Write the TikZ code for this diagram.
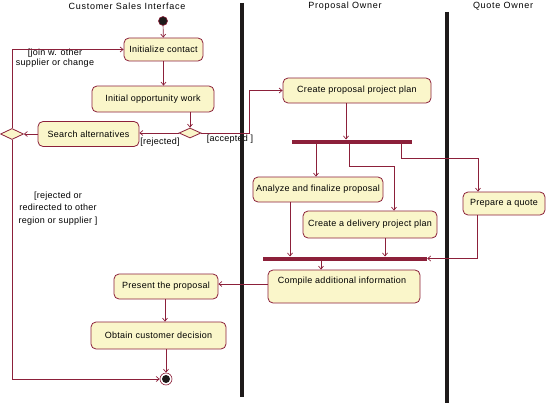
\documentclass[tikz,border=0pt]{standalone}
\usepackage{fontspec}
\setmainfont{Liberation Sans}
\usetikzlibrary{arrows.meta,shapes.geometric}
\definecolor{ln}{RGB}{140,32,58}
\definecolor{fl}{RGB}{250,246,202}
\definecolor{dk}{RGB}{30,26,26}
\tikzset{
  x=1pt,y=-1pt,
  every node/.style={font=\fontsize{9}{10.5}\selectfont\addfontfeatures{LetterSpace=3}},
  act/.style={draw=ln,fill=fl,rounded corners=5pt,line width=0.8pt,inner sep=0pt,align=center},
  dec/.style={draw=ln,fill=fl,diamond,line width=0.8pt,inner sep=0pt,aspect=2.2},
  bar/.style={fill=ln,draw=none,inner sep=0pt,minimum height=4pt},
  flow/.style={draw=ln,line width=0.7pt,-{Straight Barb[length=3pt,width=5pt]}},
  lane/.style={draw=dk,line width=3.5pt},
  lbl/.style={align=center,inner sep=0pt},
  ttl/.style={inner sep=0pt,font=\fontsize{9}{10.5}\selectfont\addfontfeatures{LetterSpace=8}}
}
\begin{document}
\begin{tikzpicture}
\useasboundingbox (0,0) rectangle (546,404);
% labels under lanes
\node[lbl] (l3) at (230,139) {[accepted ]};
% lanes
\coordinate (s1t) at (242,3); \coordinate (s1b) at (242,397);
\coordinate (s2t) at (447,12); \coordinate (s2b) at (447,403);
\draw[lane] (s1t) -- (s1b);
\draw[lane] (s2t) -- (s2b);
\node[ttl] (t1) at (127,6) {Customer Sales Interface};
\node[ttl] (t2) at (345,6) {Proposal Owner};
\node[ttl] (t3) at (503,6) {Quote Owner};
% nodes
\node[circle,fill=dk,draw=ln,line width=0.6pt,minimum size=9pt,inner sep=0pt] (start) at (163,21) {};
\node[act,minimum width=79pt,minimum height=23pt] (init) at (163.5,49.5) {Initialize contact};
\node[act,minimum width=122pt,minimum height=26pt] (opp) at (153,99) {Initial opportunity work};
\node[dec,minimum width=22pt,minimum height=10pt] (d1) at (190,133) {};
\node[act,minimum width=101pt,minimum height=25pt] (search) at (88.5,134) {Search alternatives};
\node[dec,minimum width=23pt,minimum height=11pt] (d2) at (12,134) {};
\node[act,minimum width=148pt,minimum height=25pt] (cppp) at (357,90.5) {Create proposal project plan};
\node[bar,minimum width=120pt] (fork) at (352,141.5) {};
\node[act,minimum width=130pt,minimum height=25pt] (anal) at (318,189.5) {Analyze and finalize proposal};
\node[act,minimum width=134pt,minimum height=27pt] (deliv) at (370,224.5) {Create a delivery project plan};
\node[act,minimum width=82pt,minimum height=23pt] (quote) at (504,203.5) {Prepare a quote};
\node[bar,minimum width=164pt] (join) at (345,258.5) {};
\node[act,minimum width=152pt,minimum height=33pt] (comp) at (344,286.5) {};
\node[lbl] (compt) at (342,281) {Compile additional information};
\node[act,minimum width=104pt,minimum height=25pt] (pres) at (166,286.5) {Present the proposal};
\node[act,minimum width=135pt,minimum height=27pt] (obt) at (158.5,335.5) {Obtain customer decision};
\node[circle,draw=ln,fill=white,line width=0.6pt,minimum size=12pt,inner sep=0pt] (end) at (166,379) {};
\node[circle,fill=dk,minimum size=8pt,inner sep=0pt] (endin) at (166,379) {};
% labels
\node[lbl] (l1) at (55,58) {[join w. other\\supplier or change};
\node[lbl] (l2) at (160,142) {[rejected]};
\node[lbl,font=\fontsize{9}{12.5}\selectfont\addfontfeatures{LetterSpace=3}] (l4) at (58,208.5) {[rejected or\\redirected to other\\region or supplier ]};
% connectors
\coordinate (c1) at (249,133);
\draw[flow] (start) -- (init);
\draw[flow] (init.south) -- (init.south |- opp.north);
\draw[flow] (d1.north |- opp.south) -- (d1.north);
\draw[flow] (d1.west) -- (d1.west -| search.east);
\draw[flow] (search.west) -- (d2.east);
\draw[flow] (d2.north) |- (init.west);
\draw[flow] (d2.south) |- (end.west);
\draw[flow] (d1.east) -- (c1) |- (cppp.west);
\draw[flow] (cppp.south -| 346,0) -- (346,139.5);
\draw[flow] (316,143.5) -- (316,0 |- anal.north);
\draw[flow] (349,143.5) -- (349,166) -- (394,166) -- (394,0 |- deliv.north);
\draw[flow] (401,143.5) -- (401,158) -- (478,158) -- (478,0 |- quote.north);
\draw[flow] (290,0 |- anal.south) -- (290,256.5);
\draw[flow] (385,0 |- deliv.south) -- (385,256.5);
\draw[flow] (477,0 |- quote.south) |- (join.east);
\draw[flow] (321,260.5) -- (321,0 |- comp.north);
\draw[flow] (comp.west |- 0,284) -- (pres.east |- 0,284);
\draw[flow] (165,0 |- pres.south) -- (165,0 |- obt.north);
\draw[flow] (166,0 |- obt.south) -- (end.north);
\end{tikzpicture}
\end{document}
